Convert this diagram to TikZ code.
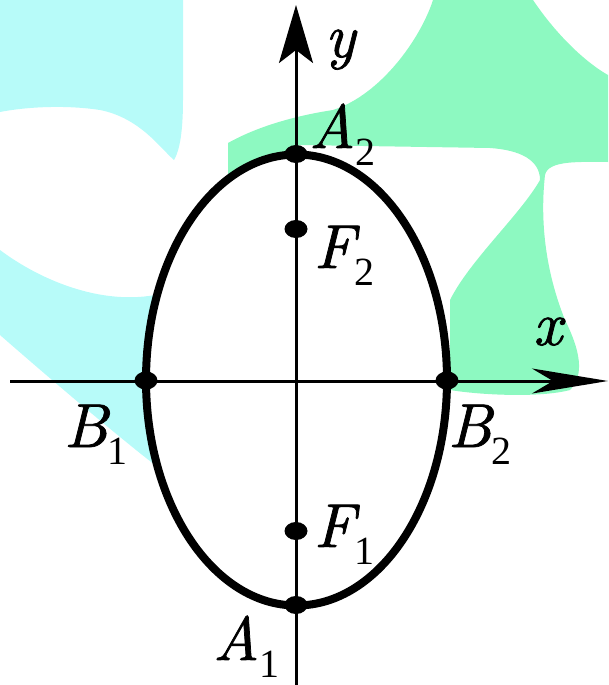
\documentclass[tikz,border=0pt]{standalone}
\usepackage{fontspec}
\newfontfamily\tms{Liberation Serif}
\newfontfamily\lmi{lmroman10-italic.otf}[FakeBold=1.2]
\usetikzlibrary{arrows.meta,shapes.geometric}
\definecolor{wmcyan}{HTML}{B7FBF9}
\definecolor{wmgreen}{HTML}{8DF9C1}
\newcommand{\lbl}[2]{{\lmi #1}\raisebox{-17pt}{\tms\fontsize{40}{44}\selectfont #2}}
\begin{document}
\begin{tikzpicture}[x=1pt,y=-1pt,
  dot/.style={ellipse,fill=black,inner sep=0pt,minimum width=23pt,minimum height=18pt},
  lab/.style={inner sep=0pt,anchor=base west,font=\fontsize{62}{70}\selectfont},
  axis/.style={line width=3pt},
  curve/.style={line width=8pt}]
\useasboundingbox (0,0) rectangle (608,685);
% watermark background
\fill[wmcyan] (0,0) -- (183,0) -- (183,100) .. controls (183,130) and (180,150) .. (174,160)
  .. controls (160,148) and (140,118) .. (100,110) .. controls (60,104) and (20,108) .. (0,112) -- cycle;
\fill[wmcyan] (0,250) .. controls (40,280) and (100,305) .. (155,295) -- (155,465)
  .. controls (110,430) and (40,370) .. (0,335) -- cycle;
\fill[wmgreen] (433,0) -- (533,0) .. controls (560,40) and (590,65) .. (608,75) -- (608,162)
  .. controls (580,162) and (548,160) .. (545,175) .. controls (540,220) and (545,270) .. (565,320)
  .. controls (580,350) and (585,375) .. (570,390) .. controls (540,398) and (480,395) .. (450,390)
  -- (450,300) .. controls (470,260) and (520,215) .. (540,180) .. controls (540,160) and (520,150) .. (490,148)
  -- (300,145) -- (228,178) -- (228,143) .. controls (260,125) and (300,115) .. (333,110)
  .. controls (380,95) and (420,40) .. (433,0) -- cycle;
% ellipse
\coordinate (O) at (296.5,380);
\fill[white] (O) ellipse [x radius=150.5pt, y radius=225.5pt];
% axes
\coordinate (xs) at (10,381);
\coordinate (xe) at (608,381);
\coordinate (ys) at (296,690);
\coordinate (ye) at (296,5);
\draw[axis,-{Stealth[length=76pt,width=25pt,inset=21pt]}] (xs) -- (xe);
\draw[axis,-{Stealth[length=58pt,width=34pt,inset=13pt]}] (ys) -- (ye);
\draw[curve] (O) ellipse [x radius=150.5pt, y radius=225.5pt];
% points
\node[dot] (A2) at (296,154) {};
\node[dot] (A1) at (296,605) {};
\node[dot] (B1) at (146,380.5) {};
\node[dot] (B2) at (447,380.5) {};
\node[dot] (F2) at (296,229) {};
\node[dot] (F1) at (296,531) {};
% labels
\node[lab] (ly) at (325,57) {\lmi y};
\node[lab] (lx) at (533,345) {\lmi x};
\node[lab] (lA2) at (309,148) {\lbl{A}{2}};
\node[lab] (lF2) at (314,268) {\lbl{F}{2}};
\node[lab] (lB1) at (64,447) {\lbl{B}{1}};
\node[lab] (lB2) at (448,447) {\lbl{B}{2}};
\node[lab] (lF1) at (314,547) {\lbl{F}{1}};
\node[lab] (lA1) at (213,660) {\lbl{A}{1}};
\end{tikzpicture}
\end{document}
